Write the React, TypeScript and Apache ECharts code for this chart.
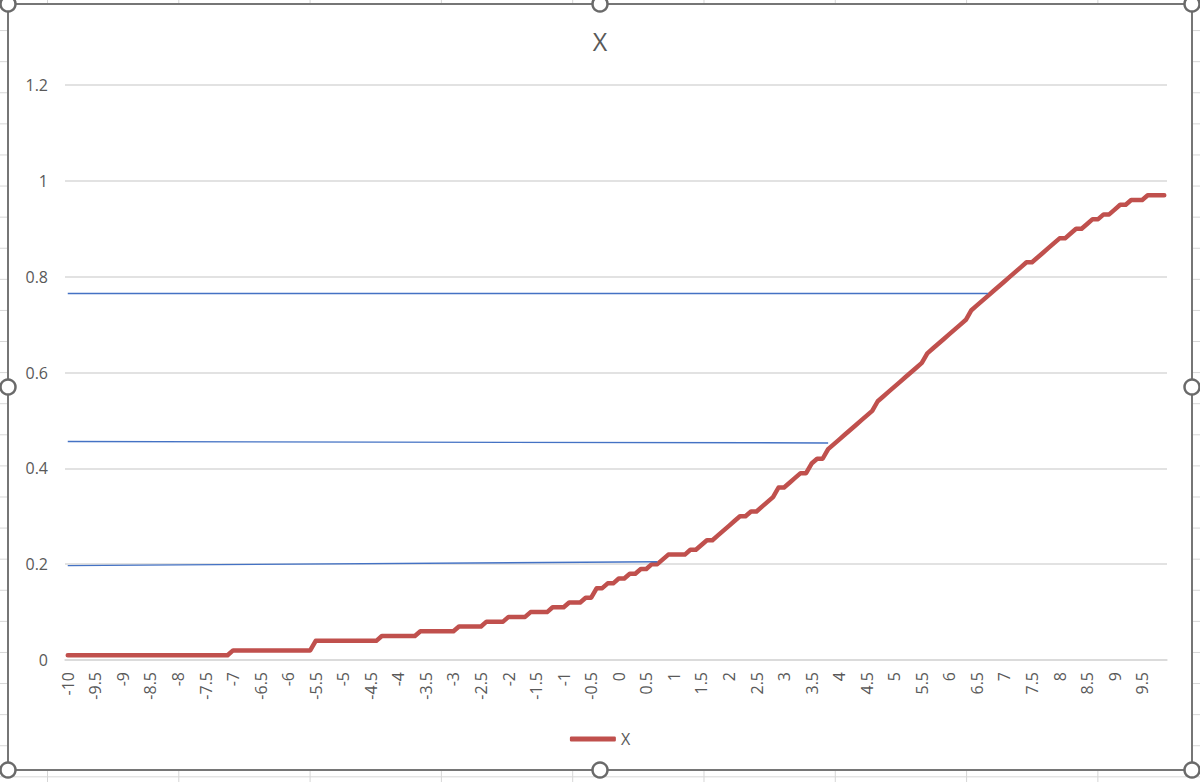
import React, { useEffect, useRef } from 'react';
import * as echarts from 'echarts';

// x categories: -10 .. 9.9 in steps of 0.1
const categories = Array.from({ length: 200 }, (_, i) => String(Math.round((-10 + i * 0.1) * 10) / 10));

// series "X"
const xValues = [
  0.01, 0.01, 0.01, 0.01, 0.01, 0.01, 0.01, 0.01, 0.01, 0.01,
  0.01, 0.01, 0.01, 0.01, 0.01, 0.01, 0.01, 0.01, 0.01, 0.01,
  0.01, 0.01, 0.01, 0.01, 0.01, 0.01, 0.01, 0.01, 0.01, 0.01,
  0.02, 0.02, 0.02, 0.02, 0.02, 0.02, 0.02, 0.02, 0.02, 0.02,
  0.02, 0.02, 0.02, 0.02, 0.02, 0.04, 0.04, 0.04, 0.04, 0.04,
  0.04, 0.04, 0.04, 0.04, 0.04, 0.04, 0.04, 0.05, 0.05, 0.05,
  0.05, 0.05, 0.05, 0.05, 0.06, 0.06, 0.06, 0.06, 0.06, 0.06,
  0.06, 0.07, 0.07, 0.07, 0.07, 0.07, 0.08, 0.08, 0.08, 0.08,
  0.09, 0.09, 0.09, 0.09, 0.10, 0.10, 0.10, 0.10, 0.11, 0.11,
  0.11, 0.12, 0.12, 0.12, 0.13, 0.13, 0.15, 0.15, 0.16, 0.16,
  0.17, 0.17, 0.18, 0.18, 0.19, 0.19, 0.20, 0.20, 0.21, 0.22,
  0.22, 0.22, 0.22, 0.23, 0.23, 0.24, 0.25, 0.25, 0.26, 0.27,
  0.28, 0.29, 0.30, 0.30, 0.31, 0.31, 0.32, 0.33, 0.34, 0.36,
  0.36, 0.37, 0.38, 0.39, 0.39, 0.41, 0.42, 0.42, 0.44, 0.45,
  0.46, 0.47, 0.48, 0.49, 0.50, 0.51, 0.52, 0.54, 0.55, 0.56,
  0.57, 0.58, 0.59, 0.60, 0.61, 0.62, 0.64, 0.65, 0.66, 0.67,
  0.68, 0.69, 0.70, 0.71, 0.73, 0.74, 0.75, 0.76, 0.77, 0.78,
  0.79, 0.80, 0.81, 0.82, 0.83, 0.83, 0.84, 0.85, 0.86, 0.87,
  0.88, 0.88, 0.89, 0.90, 0.90, 0.91, 0.92, 0.92, 0.93, 0.93,
  0.94, 0.95, 0.95, 0.96, 0.96, 0.96, 0.97, 0.97, 0.97, 0.97,
];

// hand-drawn blue guide lines: start value at -10, end value and end category index
const guideStart = [0.766, 0.456, 0.197];
const guideEnd = [0.766, 0.453, 0.205];
const guideEndIndex = [167, 138, 107];

const yTicks = [0, 0.2, 0.4, 0.6, 0.8, 1, 1.2];

// selection handles round the chart frame
const handles = [
  [8, 4], [600, 4], [1192, 4],
  [8, 387], [1192, 387],
  [8, 770], [600, 770], [1192, 770],
];

const RED = '#C0504D';
const BLUE = '#4472C4';
const TEXT = '#595959';
const FONT = '"Open Sans", "Noto Sans", sans-serif';

export default function App() {
  const chartRef = useRef<HTMLDivElement>(null);

  useEffect(() => {
    if (!chartRef.current) return;
    const chart = echarts.init(chartRef.current, undefined, { renderer: 'svg' });

    chart.setOption({
      animation: false,
      backgroundColor: 'transparent',
      textStyle: { fontFamily: FONT },
      title: {
        text: 'X',
        left: 'center',
        top: 23,
        textStyle: { color: TEXT, fontSize: 25, fontWeight: 'normal', fontFamily: FONT },
      },
      legend: {
        data: ['X'],
        left: 'center',
        top: 726,
        icon: 'roundRect',
        itemWidth: 46,
        itemHeight: 5,
        textStyle: { color: TEXT, fontSize: 16, fontFamily: FONT },
      },
      grid: { left: 65, right: 33, top: 85, bottom: 122, containLabel: false },
      xAxis: {
        type: 'category',
        data: categories,
        boundaryGap: true,
        axisLine: { lineStyle: { color: '#d9d9d9', width: 1.5 } },
        axisTick: { show: false },
        axisLabel: {
          interval: 4,
          rotate: 90,
          margin: 12,
          color: TEXT,
          fontSize: 16,
          fontFamily: FONT,
        },
      },
      yAxis: {
        type: 'value',
        min: 0,
        max: 1.2,
        interval: 0.2,
        axisLine: { show: false },
        axisTick: { show: false },
        splitLine: { lineStyle: { color: '#d9d9d9', width: 1.5 } },
        axisLabel: {
          color: TEXT,
          fontSize: 16,
          margin: 17,
          fontFamily: FONT,
          formatter: (v: number) => {
            const t = yTicks.find((y) => Math.abs(y - v) < 1e-6);
            return t === undefined ? '' : String(t);
          },
        },
      },
      series: [
        {
          name: 'X',
          type: 'line',
          data: xValues,
          showSymbol: false,
          symbol: 'none',
          z: 3,
          lineStyle: { color: RED, width: 4.5, cap: 'round', join: 'round' },
          itemStyle: { color: RED },
          markLine: {
            silent: true,
            symbol: 'none',
            label: { show: false },
            lineStyle: { color: BLUE, width: 1.4, type: 'solid' },
            data: guideStart.map((v, k) => [
              { coord: [0, v] },
              { coord: [guideEndIndex[k], guideEnd[k]] },
            ]),
          },
        },
      ],
      graphic: [
        {
          type: 'rect',
          z: -100,
          silent: true,
          shape: { x: 8, y: 4, width: 1184, height: 766 },
          style: { fill: '#ffffff', stroke: '#767676', lineWidth: 2 },
        },
        ...handles.map(([x, y]) => ({
          type: 'circle',
          z: 100,
          silent: true,
          shape: { cx: x, cy: y, r: 7.5 },
          style: { fill: '#ffffff', stroke: '#6a6a6a', lineWidth: 2.5 },
        })),
      ],
    });

    return () => {
      chart.dispose();
    };
  }, []);

  return (
    <div
      style={{
        position: 'absolute',
        left: 0,
        top: 0,
        width: 1200,
        height: 782,
        overflow: 'hidden',
        backgroundColor: '#ffffff',
        backgroundImage:
          'linear-gradient(to right, #d6d6d6 1px, transparent 1px), linear-gradient(to bottom, #d6d6d6 1px, transparent 1px)',
        backgroundSize: '131.3px 31.1px',
        backgroundPosition: '47px -1px',
      }}
    >
      <div ref={chartRef} style={{ width: 1200, height: 782 }} />
    </div>
  );
}
